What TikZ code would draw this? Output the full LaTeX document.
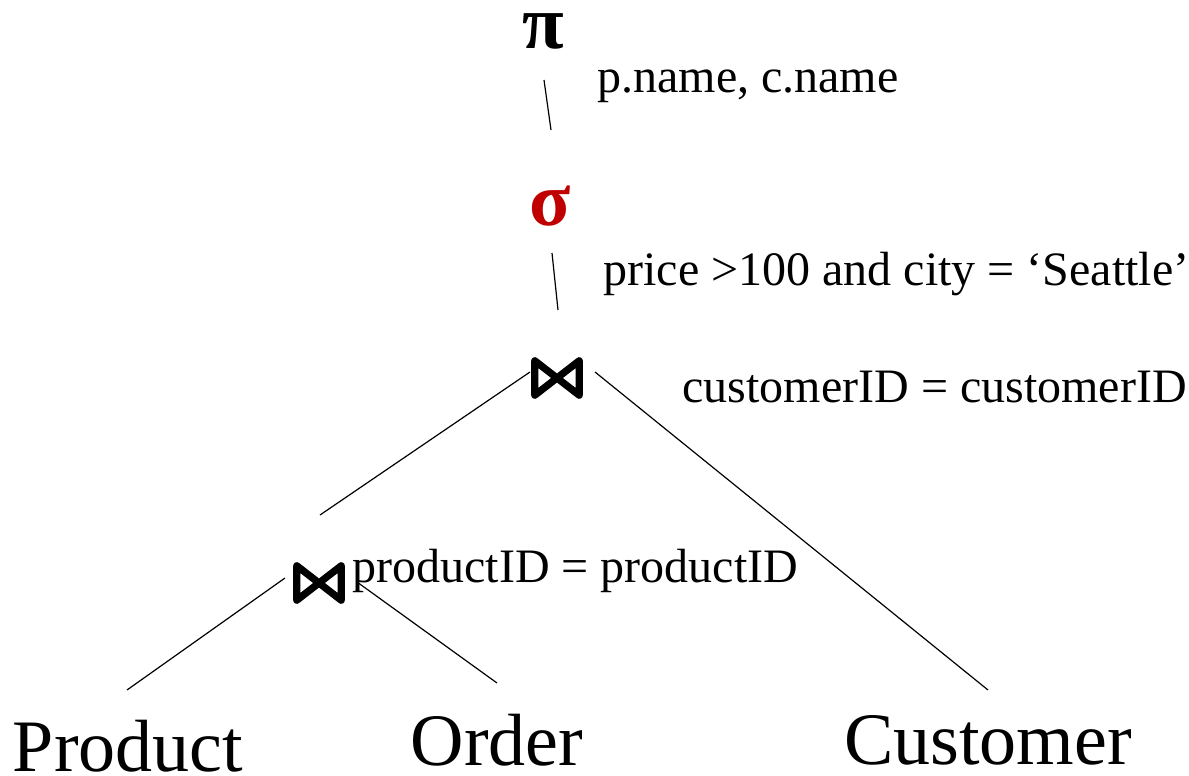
\documentclass[tikz,border=0pt]{standalone}
\usepackage{fontspec}
\setmainfont{Liberation Serif}
\usetikzlibrary{calc}
\definecolor{sigred}{RGB}{192,0,0}
\tikzset{
  lbl/.style={inner sep=0pt, anchor=base west, font=\fontsize{24}{28}\selectfont},
  rel/.style={inner sep=0pt, font=\fontsize{37}{44}\selectfont},
  op/.style={inner sep=0pt, font=\fontsize{38}{44}\selectfont\bfseries},
  edge/.style={line width=0.6pt},
  bowtie/.style={minimum width=54*0.5pt, minimum height=44*0.5pt, inner sep=0pt,
    path picture={
      \draw[line width=3.6pt, line join=round, line cap=round]
        ([shift={(2.4pt,-2.4pt)}]path picture bounding box.north west) --
        ([shift={(-2.4pt,2.4pt)}]path picture bounding box.south east) --
        ([shift={(-2.4pt,-2.4pt)}]path picture bounding box.north east) --
        ([shift={(2.4pt,2.4pt)}]path picture bounding box.south west) -- cycle;
    }}
}
\begin{document}
\begin{tikzpicture}[x=0.5pt,y=-0.5pt]
\useasboundingbox (0,0) rectangle (1189,776);
\node[op] (pi) at (543,31) {π};
\node[lbl] (pl) at (597,92) {p.name, c.name};
\node[op, text=sigred] (sigma) at (550,206) {σ};
\node[lbl] (sl) at (603,285.5) {price >100 and city = ‘Seattle’};
\node[bowtie] (b1) at (557,378) {};
\node[lbl] (b1l) at (682,402.5) {customerID = customerID};
\node[bowtie] (b2) at (319,583) {};
\node[lbl] (b2l) at (352,582.5) {productID = productID};
\node[rel] (prod) at (128,746) {Product};
\node[rel] (ord) at (497,740) {Order};
\node[rel] (cust) at (988,740) {Customer};

\draw[edge] ($(pi)+(1,49)$) -- ($(sigma)+(1,-76)$);
\draw[edge] ($(sigma)+(2,47)$) -- ($(b1)+(1,-68)$);
\draw[edge] ($(b1)+(-27,-6)$) -- ($(b2)+(1,-68)$);
\draw[edge] ($(b1)+(38,-6)$) -- ($(cust)+(0,-50)$);
\draw[edge] ($(b2)+(-34,-5)$) -- ($(prod)+(-1,-56)$);
\draw[edge] ($(b2)+(38,-1)$) -- ($(ord)+(0,-57)$);
\end{tikzpicture}
\end{document}
